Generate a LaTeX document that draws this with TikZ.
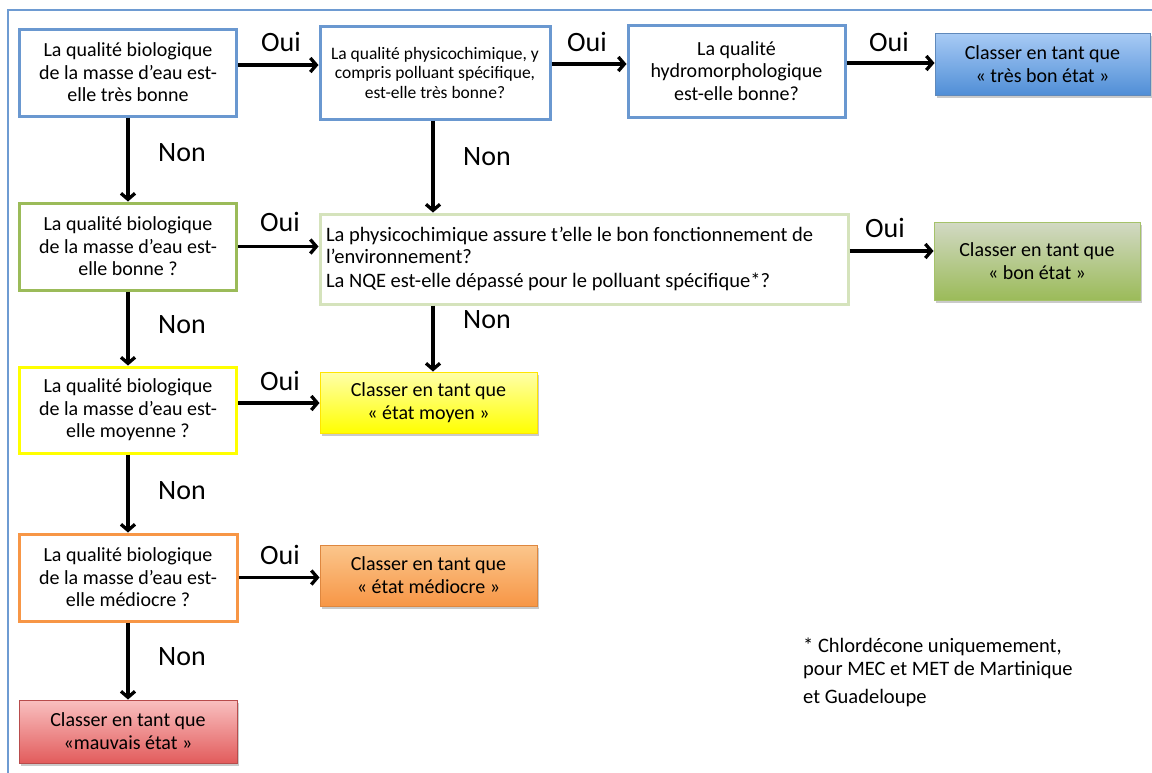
\documentclass[tikz,border=0pt]{standalone}
\usepackage{fontspec}
\setmainfont{Carlito}
\usetikzlibrary{arrows.meta,shadows,calc}
\definecolor{frameblue}{HTML}{6E9BD2}
\definecolor{qblue}{HTML}{6A98D0}
\definecolor{qgreen}{HTML}{9BBB59}
\definecolor{pgreen}{HTML}{D5E3BC}
\definecolor{qyellow}{HTML}{FFFF00}
\definecolor{qorange}{HTML}{F79646}
\tikzset{
  qbox/.style={draw, line width=3pt, fill=white, align=center, inner sep=2pt,
    font=\fontsize{20}{22.5}\selectfont},
  rbox/.style={draw, line width=1pt, align=center, inner sep=2pt,
    font=\fontsize{20}{23}\selectfont,
    drop shadow={shadow xshift=2pt, shadow yshift=-3pt, opacity=0.35, fill=black!60}},
  arr/.style={line width=3.3pt, -{Straight Barb[length=6pt,width=14pt]}},
  lbl/.style={font=\fontsize{28}{30}\selectfont, inner sep=0pt},
}
\begin{document}
\begin{tikzpicture}[x=1pt,y=-1pt]
\useasboundingbox (0,0) rectangle (1152,772);
\draw[frameblue, line width=2.5pt] (8,780) -- (8,10) -- (1160,10);

% row 1
\node[qbox, draw=qblue, minimum width=217pt, minimum height=87pt] (B1) at (128,72.5)
  {La qualité biologique\\de la masse d’eau est-\\elle très bonne};
\node[qbox, draw=qblue, minimum width=230pt, minimum height=93pt,
  font=\fontsize{17.5}{19.5}\selectfont] (B2) at (435,72.5)
  {La qualité physicochimique, y\\compris polluant spécifique,\\est-elle très bonne?};
\node[qbox, draw=qblue, minimum width=217pt, minimum height=92pt] (B3) at (736.5,71)
  {La qualité\\hydromorphologique\\est-elle bonne?};
\node[rbox, draw=qblue!90!black, top color={rgb,255:red,168;green,203;blue,245},
  bottom color={rgb,255:red,80;green,142;blue,214}, minimum width=215pt, minimum height=62pt] (B4) at (1042.5,64)
  {Classer en tant que\\« très bon état »};

% row 2
\node[qbox, draw=qgreen, minimum width=217pt, minimum height=87pt] (G1) at (128,246.5)
  {La qualité biologique\\de la masse d’eau est-\\elle bonne ?};
\node[qbox, draw=pgreen, minimum width=528pt, minimum height=90pt, align=flush left,
  font=\fontsize{20.5}{21.5}\selectfont, text width=516pt] (P) at (584,259)
  {La physicochimique assure t’elle le bon fonctionnement de\\l’environnement?\\[3pt]La NQE est-elle dépassé pour le polluant spécifique*?};
\node[rbox, draw=qgreen!90!white, top color={rgb,255:red,210;green,217;blue,196},
  bottom color=qgreen, minimum width=206pt, minimum height=78pt] (G2) at (1037,261)
  {Classer en tant que\\« bon état »};

% row 3
\node[qbox, draw=qyellow, minimum width=217pt, minimum height=86pt] (Y1) at (128,410)
  {La qualité biologique\\de la masse d’eau est-\\elle moyenne ?};
\node[rbox, draw=qyellow!80!orange, top color={rgb,255:red,255;green,255;blue,170},
  bottom color=qyellow, minimum width=217pt, minimum height=61pt] (Y2) at (428.5,402.5)
  {Classer en tant que\\« état moyen »};

% row 4
\node[qbox, draw=qorange, minimum width=218pt, minimum height=87pt] (O1) at (128,577.5)
  {La qualité biologique\\de la masse d’eau est-\\elle médiocre ?};
\node[rbox, draw=qorange!90!black, top color={rgb,255:red,251;green,198;blue,140},
  bottom color=qorange, minimum width=217pt, minimum height=61pt] (O2) at (428.5,575.5)
  {Classer en tant que\\« état médiocre »};

% row 5
\node[rbox, draw=red!60!black!70, top color={rgb,255:red,249;green,192;blue,192},
  bottom color={rgb,255:red,226;green,92;blue,92}, minimum width=218pt, minimum height=63pt] (R) at (128,731.5)
  {Classer en tant que\\«mauvais état »};

% note
\node[align=flush left, anchor=north west, inner sep=0pt, font=\fontsize{20.5}{23}\selectfont] (note) at (803,638)
  {* Chlordécone uniquemement,\\pour MEC et MET de Martinique\\[5pt]et Guadeloupe};

% arrows row 1
\draw[arr] ([yshift=7.5pt]B1.east) -- ([yshift=7.5pt]B1.east -| B2.west);
\draw[arr] ([yshift=8.5pt]B2.east) -- ([yshift=8.5pt]B2.east -| B3.west);
\draw[arr] ([yshift=8pt]B3.east) -- ([yshift=8pt]B3.east -| B4.west);
\draw[arr] (B1.south) -- (G1.north);
\draw[arr] ([xshift=-2pt]B2.south) -- ([xshift=-2pt]B2.south |- P.north);

% arrows row 2
\draw[arr] (G1.east) -- (G1.east -| P.west);
\draw[arr] ([yshift=8pt]P.east) -- ([yshift=8pt]P.east -| G2.west);
\draw[arr] (G1.south) -- (Y1.north);
\draw[arr] ([xshift=-2pt]P.south -| B2.south) -- ([xshift=-2pt]Y2.north -| B2.south);

% arrows row 3, 4
\draw[arr] ([yshift=7pt]Y1.east) -- ([yshift=7pt]Y1.east -| Y2.west);
\draw[arr] (Y1.south) -- (O1.north);
\draw[arr] (O1.east) -- (O1.east -| O2.west);
\draw[arr] (O1.south) -- (R.north);

% labels
\node[lbl] (o1) at (281,42) {Oui};
\node[lbl] (o2) at (587,42) {Oui};
\node[lbl] (o3) at (889,42) {Oui};
\node[lbl] (o4) at (280,222) {Oui};
\node[lbl] (o5) at (885,228) {Oui};
\node[lbl] (o6) at (280,381) {Oui};
\node[lbl] (o7) at (280,555) {Oui};
\node[lbl] (n1) at (182,153) {Non};
\node[lbl] (n2) at (487,157) {Non};
\node[lbl] (n3) at (182,325) {Non};
\node[lbl] (n4) at (487,320) {Non};
\node[lbl] (n5) at (182,491) {Non};
\node[lbl] (n6) at (182,657) {Non};
\end{tikzpicture}
\end{document}
